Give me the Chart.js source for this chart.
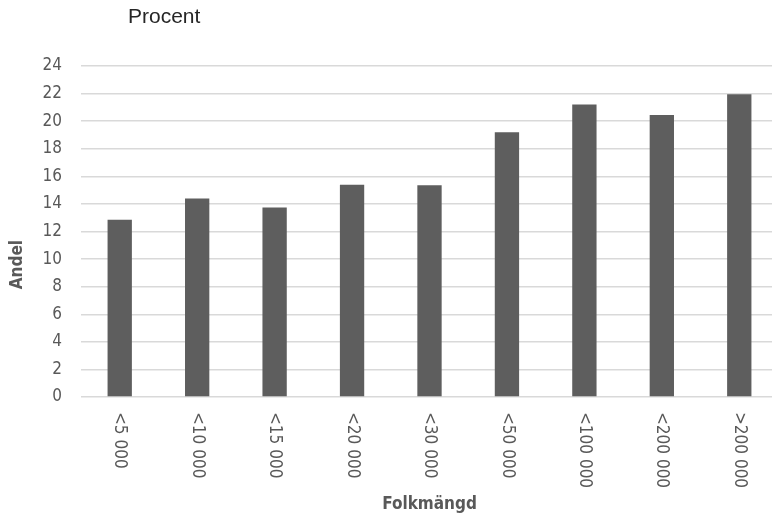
<!DOCTYPE html>
<html>
<head>
<meta charset="utf-8">
<script src="https://cdn.jsdelivr.net/npm/chart.js@4/dist/chart.umd.min.js"></script>
<style>
  html, body { margin: 0; padding: 0; background: #fff; overflow: hidden; }
  #wrap { width: 772px; height: 517px; overflow: hidden; }
</style>
</head>
<body>
<div id="wrap"><canvas id="chart" width="780" height="517"></canvas></div>
<script>
"use strict";

const categories = ["<5 000", "<10 000", "<15 000", "<20 000", "<30 000", "<50 000", "<100 000", "<200 000", ">200 000"];
const shares = [12.85, 14.4, 13.75, 15.4, 15.35, 19.2, 21.2, 20.45, 21.95];
const yMin = 0;
const yMax = 24;
const yStep = 2;
const chartTitle = "Procent";
const xTitle = "Folkmängd";
const yTitle = "Andel";

const narrow = "'DejaVu Sans Condensed', 'Liberation Sans Narrow', sans-serif";
const textGray = "#595959";

// draws the title, the y title and the x labels (rotated clockwise)
const textPlugin = {
  id: "textPlugin",
  afterDraw(chart) {
    const ctx = chart.ctx;
    const area = chart.chartArea;
    const xScale = chart.scales.x;

    ctx.save();
    ctx.fillStyle = "#262626";
    ctx.font = "21px 'Liberation Sans', Arial, sans-serif";
    ctx.textAlign = "left";
    ctx.textBaseline = "alphabetic";
    ctx.fillText(chartTitle, 128, 23);

    ctx.fillStyle = textGray;
    ctx.font = "17px " + narrow;
    ctx.textBaseline = "middle";
    for (let i = 0; i < categories.length; i++) {
      const x = xScale.getPixelForTick(i);
      ctx.save();
      ctx.translate(x, area.bottom + 15);
      ctx.rotate(Math.PI / 2);
      ctx.fillText(categories[i], 0, 0);
      ctx.restore();
    }

    ctx.font = "bold 17px " + narrow;
    ctx.textAlign = "center";
    ctx.save();
    ctx.translate(17.5, area.top + (area.bottom - area.top) * 0.6);
    ctx.rotate(-Math.PI / 2);
    ctx.fillText(yTitle, 0, 0);
    ctx.restore();
    ctx.restore();
  },
};

new Chart(document.getElementById("chart"), {
  type: "bar",
  data: {
    labels: categories,
    datasets: [
      {
        label: "Andel",
        data: shares,
        backgroundColor: "#5e5e5e",
        borderWidth: 0,
        categoryPercentage: 1,
        barPercentage: 0.314,
      },
    ],
  },
  options: {
    responsive: false,
    animation: false,
    devicePixelRatio: 1,
    layout: { padding: { top: 66, left: 6, right: 2, bottom: 2 } },
    plugins: {
      legend: { display: false },
      tooltip: { enabled: false },
    },
    scales: {
      x: {
        grid: { display: false, drawTicks: false },
        border: { display: false },
        ticks: {
          color: "transparent",
          minRotation: 90,
          maxRotation: 90,
          padding: 0,
          font: { family: narrow, size: 17 },
        },
        title: {
          display: true,
          text: xTitle,
          color: textGray,
          font: { family: narrow, size: 17, weight: "bold" },
          padding: { top: 21.5, bottom: 0 },
        },
      },
      y: {
        min: yMin,
        max: yMax,
        afterFit(scale) {
          scale.width = 75;
        },
        grid: { color: "#d9d9d9", lineWidth: 1.5, drawTicks: false },
        border: { display: false },
        ticks: {
          stepSize: yStep,
          autoSkip: false,
          color: textGray,
          padding: 19,
          font: { family: narrow, size: 17 },
        },
      },
    },
  },
  plugins: [textPlugin],
});
</script>
</body>
</html>
